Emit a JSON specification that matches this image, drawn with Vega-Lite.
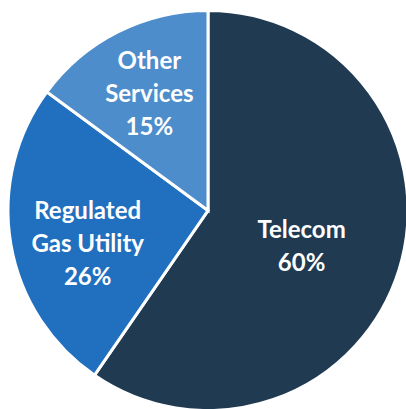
{
  "$schema": "https://vega.github.io/schema/vega-lite/v6.json",
  "width": 406,
  "height": 409,
  "autosize": {"type": "fit", "contains": "padding"},
  "padding": {"left": 10, "top": 12, "right": 0, "bottom": 0},
  "background": "white",
  "data": {
    "values": [
      {"segment": "Telecom", "share": 59.6, "label": ["Telecom", "60%"], "ord": 1},
      {"segment": "Regulated Gas Utility", "share": 25.5, "label": ["Regulated", "Gas Utility", "26%"], "ord": 2},
      {"segment": "Other Services", "share": 14.9, "label": ["Other", "Services", "15%"], "ord": 3}
    ]
  },
  "encoding": {
    "theta": {"field": "share", "type": "quantitative", "stack": true},
    "order": {"field": "ord", "type": "quantitative"}
  },
  "layer": [
    {
      "mark": {"type": "arc", "outerRadius": 200, "stroke": "white", "strokeWidth": 3},
      "encoding": {
        "color": {
          "field": "segment",
          "type": "nominal",
          "scale": {
            "domain": ["Telecom", "Regulated Gas Utility", "Other Services"],
            "range": ["#203A52", "#2170C0", "#4E8DCB"]
          },
          "legend": null
        }
      }
    },
    {
      "mark": {"type": "text", "radius": 98, "dy": -9, "font": "Lato", "fontWeight": "bold", "fontSize": 24, "lineHeight": 33, "color": "white", "align": "center", "baseline": "middle"},
      "encoding": {"text": {"condition": {"test": "datum.segment === 'Telecom'", "field": "label"}, "value": ""}}
    },
    {
      "mark": {"type": "text", "radius": 122, "dy": -19, "font": "Lato", "fontWeight": "bold", "fontSize": 24, "lineHeight": 33, "color": "white", "align": "center", "baseline": "middle"},
      "encoding": {"text": {"condition": {"test": "datum.segment === 'Regulated Gas Utility'", "field": "label"}, "value": ""}}
    },
    {
      "mark": {"type": "text", "radius": 130, "dy": -32, "font": "Lato", "fontWeight": "bold", "fontSize": 24, "lineHeight": 33, "color": "white", "align": "center", "baseline": "middle"},
      "encoding": {"text": {"condition": {"test": "datum.segment === 'Other Services'", "field": "label"}, "value": ""}}
    }
  ],
  "config": {"view": {"stroke": null}}
}
